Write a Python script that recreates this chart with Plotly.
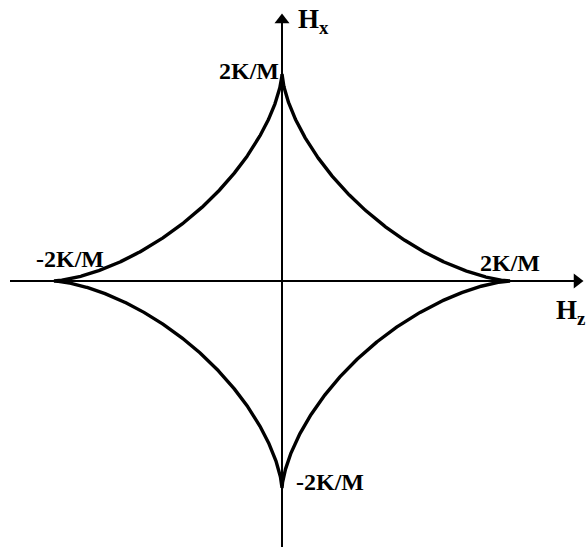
import numpy as np
import plotly.graph_objects as go

# Stoner–Wohlfarth switching astroid, fields in units of K/M
H_K = 2.0                      # anisotropy field 2K/M
cusp_labels = ["2K/M", "-2K/M", "2K/M", "-2K/M"]   # top, left, right, bottom
axis_titles = ["H<sub>x</sub>", "H<sub>z</sub>"]   # vertical, horizontal

# astroid  h_z^(2/3) + h_x^(2/3) = H_K^(2/3)
t = np.linspace(0, 2 * np.pi, 2001)
hz = H_K * np.cos(t) ** 3
hx = H_K * np.sin(t) ** 3

W, H = 588, 547
x0_px, y0_px = 282, 281        # origin position on the page
sx, sy = 114.0, 103.5          # pixels per unit
xr = [(0 - x0_px) / sx, (W - x0_px) / sx]
yr = [(y0_px - H) / sy, (y0_px - 0) / sy]

def px_x(p):
    return (p - x0_px) / sx

def px_y(p):
    return (y0_px - p) / sy

fig = go.Figure()

# coordinate axes
fig.add_trace(go.Scatter(x=[px_x(10), px_x(576)], y=[0, 0], mode="lines",
                         line=dict(color="black", width=2),
                         hoverinfo="skip", showlegend=False))
fig.add_trace(go.Scatter(x=[0, 0], y=[px_y(548), px_y(20)], mode="lines",
                         line=dict(color="black", width=2),
                         hoverinfo="skip", showlegend=False))
# arrowheads
fig.add_trace(go.Scatter(x=[px_x(577)], y=[0], mode="markers",
                         marker=dict(symbol="triangle-right", size=13,
                                     color="black", line=dict(width=0)),
                         hoverinfo="skip", showlegend=False))
fig.add_trace(go.Scatter(x=[0], y=[px_y(20)], mode="markers",
                         marker=dict(symbol="triangle-up", size=13,
                                     color="black", line=dict(width=0)),
                         hoverinfo="skip", showlegend=False))

# switching curve
fig.add_trace(go.Scatter(x=hz, y=hx, mode="lines",
                         line=dict(color="black", width=3.4),
                         hoverinfo="skip", showlegend=False))

font = dict(family="Liberation Serif", size=24, color="black")

def lab(text, x, y, xa, ya, xs=0, ys=0, f=font):
    fig.add_annotation(x=x, y=y, xref="x", yref="y", text="<b>%s</b>" % text,
                       showarrow=False, xanchor=xa, yanchor=ya,
                       xshift=xs, yshift=ys, font=f)

lab(cusp_labels[0], 0, H_K, "right", "middle", xs=-1, ys=3)
lab(cusp_labels[1], -H_K, 0, "left", "bottom", xs=-20, ys=7)
lab(cusp_labels[2], H_K, 0, "center", "bottom", xs=0, ys=3)
lab(cusp_labels[3], 0, -H_K, "left", "middle", xs=12, ys=6)

title_font = dict(family="Liberation Serif", size=27, color="black")
lab(axis_titles[0], px_x(296), px_y(21), "left", "middle", f=title_font)
lab(axis_titles[1], px_x(587), px_y(312), "right", "middle", f=title_font)

fig.update_layout(
    width=W, height=H, margin=dict(l=0, r=0, t=0, b=0),
    plot_bgcolor="white", paper_bgcolor="white",
    xaxis=dict(range=xr, visible=False, fixedrange=True),
    yaxis=dict(range=yr, visible=False, fixedrange=True),
)
fig.write_html("out.html")
